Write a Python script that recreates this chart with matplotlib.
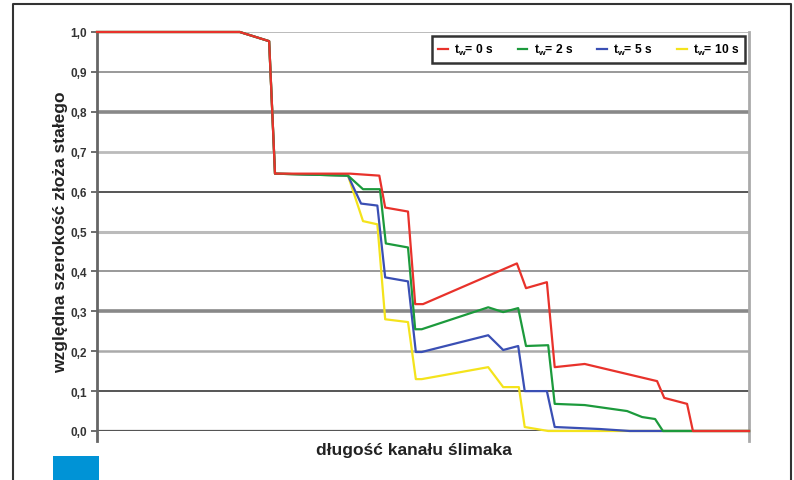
from matplotlib import pyplot as plt
from matplotlib.patches import Rectangle
from matplotlib.lines import Line2D
import matplotlib

matplotlib.rcParams['font.family'] = ['Liberation Sans', 'DejaVu Sans']
matplotlib.rcParams['font.weight'] = 'bold'
matplotlib.rcParams['mathtext.fontset'] = 'custom'
matplotlib.rcParams['mathtext.rm'] = 'Liberation Sans:bold'
matplotlib.rcParams['mathtext.it'] = 'Liberation Sans:bold'

# położenie wzdłuż kanału ślimaka (0-100 %) i względna szerokość złoża
x_0s = [0, 21.9, 26.4, 27.3, 38.8, 43.3, 44.2, 47.7, 48.8, 50.0, 64.4, 65.8,
        69.0, 70.2, 74.8, 85.9, 87.0, 90.5, 91.4, 100]
y_0s = [1.0, 1.0, 0.977, 0.645, 0.645, 0.64, 0.56, 0.55, 0.318, 0.318, 0.42, 0.358,
        0.373, 0.16, 0.168, 0.125, 0.083, 0.068, 0.0, 0.0]

x_2s = [0, 21.9, 26.4, 27.3, 38.5, 40.8, 43.4, 44.3, 47.7, 48.8, 49.8, 60.0,
        62.3, 64.6, 65.8, 69.2, 70.2, 74.8, 81.3, 83.6, 85.6, 86.8, 100]
y_2s = [1.0, 1.0, 0.977, 0.645, 0.64, 0.606, 0.606, 0.47, 0.46, 0.255, 0.255, 0.31,
        0.298, 0.308, 0.213, 0.215, 0.068, 0.065, 0.05, 0.035, 0.03, 0.0, 0.0]

x_5s = [0, 21.9, 26.4, 27.3, 38.5, 40.5, 43.0, 44.2, 47.7, 48.9, 49.8, 60.0,
        62.3, 64.6, 65.6, 69.0, 70.2, 77.1, 81.7, 100]
y_5s = [1.0, 1.0, 0.977, 0.645, 0.64, 0.57, 0.565, 0.385, 0.375, 0.198, 0.198, 0.24,
        0.203, 0.213, 0.10, 0.10, 0.01, 0.005, 0.0, 0.0]

x_10s = [0, 21.9, 26.4, 27.3, 38.5, 40.8, 43.0, 44.2, 47.7, 48.9, 49.8, 60.0,
         62.3, 64.7, 65.6, 69.2, 100]
y_10s = [1.0, 1.0, 0.977, 0.645, 0.64, 0.526, 0.518, 0.28, 0.273, 0.13, 0.13, 0.16,
         0.11, 0.11, 0.01, 0.0, 0.0]

series_labels = [r'$t_w$= 0 s', r'$t_w$= 2 s', r'$t_w$= 5 s', r'$t_w$= 10 s']
y_ticks = [0.0, 0.1, 0.2, 0.3, 0.4, 0.5, 0.6, 0.7, 0.8, 0.9, 1.0]

fig = plt.figure(figsize=(7.94, 4.81), dpi=100)
ax = fig.add_axes([97 / 794, 49 / 481, 652 / 794, 399 / 481])

# poziome linie siatki (różna grubość i odcień)
grid_styles = {
    0.0: ('#555555', 1.6), 0.1: ('#555555', 1.4), 0.2: ('#aaaaaa', 1.8),
    0.3: ('#888888', 2.6), 0.4: ('#999999', 1.4), 0.5: ('#bbbbbb', 2.2),
    0.6: ('#555555', 1.4), 0.7: ('#bbbbbb', 2.0), 0.8: ('#888888', 2.6),
    0.9: ('#999999', 1.4), 1.0: ('#bbbbbb', 1.4),
}
for yv in y_ticks:
    c, w = grid_styles[yv]
    ax.axhline(yv, color=c, lw=w, zorder=1)

# pionowe linie na brzegach wykresu
ax.axvline(0, ymin=-0.025, ymax=1.0, color='#666666', lw=2, clip_on=False, zorder=2)
ax.axvline(100, ymin=-0.025, ymax=1.0, color='#aaaaaa', lw=2, clip_on=False, zorder=2)

colors = ['#e8322b', '#1c9a3c', '#3a4fb4', '#f4e31c']
data = [(x_0s, y_0s), (x_2s, y_2s), (x_5s, y_5s), (x_10s, y_10s)]
for i, ((xs, ys), c) in enumerate(zip(data, colors)):
    ax.plot(xs, ys, color=c, lw=1.6, zorder=10 - i, clip_on=False)

ax.set_xlim(0, 100)
ax.set_ylim(0, 1)
for s in ax.spines.values():
    s.set_visible(False)
ax.set_xticks([])
ax.set_yticks(y_ticks)
ax.set_yticklabels([f'{v:.1f}'.replace('.', ',') for v in y_ticks])
ax.tick_params(axis='y', length=4, width=1.2, color='#555555', pad=3,
               labelsize=8.5, labelcolor='#333333')

ax.set_ylabel('względna szerokość złoża stałego', fontsize=12.5, fontweight='bold', color='#222222')
ax.yaxis.set_label_coords(-0.045, 0.5)
ax.set_xlabel('długość kanału ślimaka', fontsize=12.5, fontweight='bold', color='#222222')
ax.xaxis.set_label_coords(0.486, -0.028)

handles = [Line2D([], [], color=c, lw=1.6) for c in colors]
leg = ax.legend(handles, series_labels, loc='upper right', bbox_to_anchor=(0.994, 0.99),
                ncol=4, fontsize=8.7, handlelength=0.8, handletextpad=0.5,
                columnspacing=2.0, borderaxespad=0, fancybox=False, framealpha=1,
                edgecolor='#333333', borderpad=0.5)
leg.get_frame().set_linewidth(1.8)
leg.set_zorder(20)

# ramka wokół rysunku i niebieski znacznik
fig.add_artist(Line2D([13 / 794, 13 / 794, 791 / 794, 791 / 794], [0, 476 / 481, 476 / 481, 0],
                      color='#333333', lw=1.5))
fig.add_artist(Rectangle((53 / 794, 0), 46 / 794, 24 / 481, color='#0093d6', lw=0))

plt.savefig('out.png', dpi=100)
plt.close()
